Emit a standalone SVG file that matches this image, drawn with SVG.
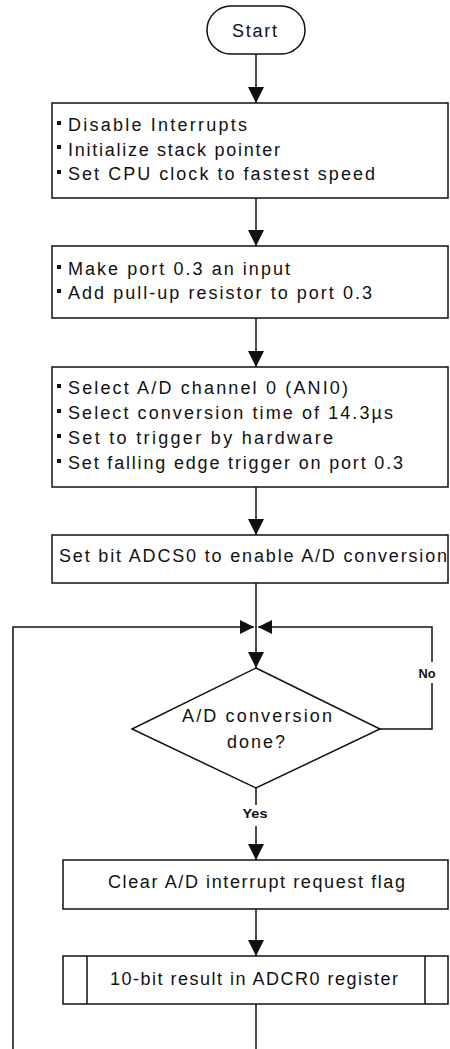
<svg xmlns="http://www.w3.org/2000/svg" width="450" height="1049" viewBox="0 0 450 1049">
<style>
.box{fill:#fff;stroke:#111;stroke-width:1.5}
.ln{fill:none;stroke:#111;stroke-width:1.5}
text{font-family:"Liberation Sans",Arial,sans-serif;font-size:18px;fill:#111}
.sm{font-size:12px;font-weight:bold}
.b{fill:#111}
</style>
<defs>
<marker id="ah" viewBox="0 0 16 16" refX="16" refY="8" markerWidth="16" markerHeight="16" markerUnits="userSpaceOnUse" orient="auto">
<path d="M0,0 L16,8 L0,16 Z" fill="#111"/>
</marker>
<marker id="ahs" viewBox="0 0 14 14" refX="14" refY="7" markerWidth="14" markerHeight="14" markerUnits="userSpaceOnUse" orient="auto">
<path d="M0,0 L14,7 L0,14 Z" fill="#111"/>
</marker>
</defs>
<g id="connectors">
<line class="ln" x1="256" y1="54" x2="256" y2="103" marker-end="url(#ah)"/>
<line class="ln" x1="256" y1="198" x2="256" y2="246" marker-end="url(#ah)"/>
<line class="ln" x1="256" y1="318" x2="256" y2="367" marker-end="url(#ah)"/>
<line class="ln" x1="256" y1="487" x2="256" y2="535" marker-end="url(#ah)"/>
<line class="ln" x1="256" y1="583" x2="256" y2="668" marker-end="url(#ah)"/>
<polyline class="ln" points="13,1049 13,627 254,627" marker-end="url(#ahs)"/>
<polyline class="ln" points="380,729 432,729 432,683"/>
<polyline class="ln" points="432,662 432,627 258,627" marker-end="url(#ahs)"/>
<line class="ln" x1="256" y1="788" x2="256" y2="805"/>
<line class="ln" x1="256" y1="826" x2="256" y2="860" marker-end="url(#ah)"/>
<line class="ln" x1="256" y1="909" x2="256" y2="956" marker-end="url(#ah)"/>
<line class="ln" x1="256" y1="1004" x2="256" y2="1049"/>
<text class="sm" x="427" y="678" text-anchor="middle" textLength="17" lengthAdjust="spacingAndGlyphs">No</text>
<text class="sm" x="255" y="818" text-anchor="middle" textLength="25" lengthAdjust="spacingAndGlyphs">Yes</text>
</g>
<g id="start">
<rect class="box" x="207" y="6" width="98" height="48" rx="24" ry="24"/>
<text x="232" y="37" textLength="45" lengthAdjust="spacing">Start</text>
</g>
<g id="init">
<rect class="box" x="52" y="103" width="396" height="95"/>
<rect class="b" x="57" y="121" width="4" height="4"/>
<rect class="b" x="57" y="145" width="4" height="4"/>
<rect class="b" x="57" y="170" width="4" height="4"/>
<text x="68" y="131" textLength="179" lengthAdjust="spacing">Disable Interrupts</text>
<text x="68" y="156" textLength="212" lengthAdjust="spacing">Initialize stack pointer</text>
<text x="68" y="180" textLength="307" lengthAdjust="spacing">Set CPU clock to fastest speed</text>
</g>
<g id="port">
<rect class="box" x="52" y="246" width="396" height="72"/>
<rect class="b" x="57" y="265" width="4" height="4"/>
<rect class="b" x="57" y="289" width="4" height="4"/>
<text x="68" y="275" textLength="222" lengthAdjust="spacing">Make port 0.3 an input</text>
<text x="68" y="299" textLength="304" lengthAdjust="spacing">Add pull-up resistor to port 0.3</text>
</g>
<g id="adsetup">
<rect class="box" x="52" y="367" width="396" height="120"/>
<rect class="b" x="57" y="384" width="4" height="4"/>
<rect class="b" x="57" y="409" width="4" height="4"/>
<rect class="b" x="57" y="434" width="4" height="4"/>
<rect class="b" x="57" y="459" width="4" height="4"/>
<text x="68" y="394" textLength="280" lengthAdjust="spacing">Select A/D channel 0 (ANI0)</text>
<text x="68" y="419" textLength="325" lengthAdjust="spacing">Select conversion time of 14.3µs</text>
<text x="68" y="444" textLength="265" lengthAdjust="spacing">Set to trigger by hardware</text>
<text x="68" y="469" textLength="335" lengthAdjust="spacing">Set falling edge trigger on port 0.3</text>
</g>
<g id="enable">
<rect class="box" x="52" y="535" width="396" height="48"/>
<text x="59" y="562" textLength="388" lengthAdjust="spacing">Set bit ADCS0 to enable A/D conversion</text>
</g>
<g id="decision">
<polygon class="box" points="256,668 380,729 256,788 132,729"/>
<text x="182" y="722" textLength="150" lengthAdjust="spacing">A/D conversion</text>
<text x="227" y="748" textLength="58" lengthAdjust="spacing">done?</text>
</g>
<g id="clear">
<rect class="box" x="63" y="860" width="385" height="49"/>
<text x="108" y="888" textLength="297" lengthAdjust="spacing">Clear A/D interrupt request flag</text>
</g>
<g id="result">
<rect class="box" x="63" y="956" width="385" height="48"/>
<line class="ln" x1="87" y1="956" x2="87" y2="1004"/>
<line class="ln" x1="425" y1="956" x2="425" y2="1004"/>
<text x="110" y="985" textLength="288" lengthAdjust="spacing">10-bit result in ADCR0 register</text>
</g>
</svg>
